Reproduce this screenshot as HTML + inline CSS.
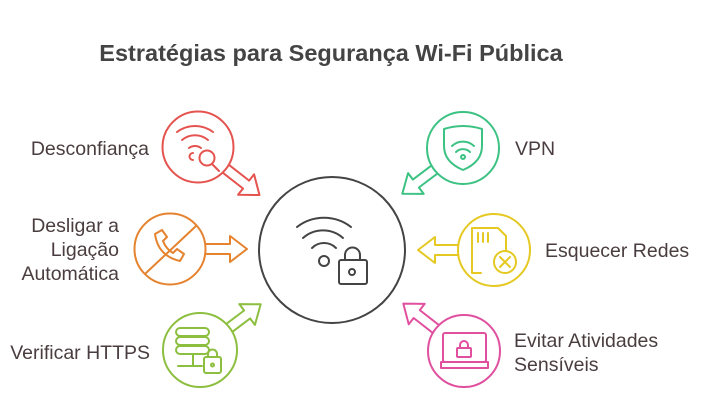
<!DOCTYPE html>
<html><head><meta charset="utf-8"><style>
body{margin:0;width:709px;height:413px;background:#fff;overflow:hidden}
svg{display:block}
text{font-family:"Liberation Sans",sans-serif}
.l{font-size:19.5px;fill:#4a3d3f}
</style></head><body>
<svg width="709" height="413" viewBox="0 0 709 413">
<text x="331" y="61" text-anchor="middle" font-size="23.5" font-weight="bold" fill="#444">Estratégias para Segurança Wi-Fi Pública</text>
<g fill="#fff" stroke-width="2" stroke-linejoin="round">
<g transform="translate(198,147) rotate(38)" stroke="#e5534f"><polygon points="30,-5 61,-5 61,-13 78,0 61,13 61,5 30,5"/></g>
<g transform="translate(170,249)" stroke="#e5832f"><polygon points="30,-5 60,-5 60,-13 77,0 60,13 60,5 30,5"/></g>
<g transform="translate(200,350) rotate(-37)" stroke="#8cbf3f"><polygon points="30,-5 59,-5 59,-13 76,0 59,13 59,5 30,5"/></g>
<g transform="translate(463,148) rotate(143)" stroke="#3cc283"><polygon points="30,-5 59,-5 59,-13 76,0 59,13 59,5 30,5"/></g>
<g transform="translate(494,250) rotate(180)" stroke="#e5c922"><polygon points="30,-5 59,-5 59,-13 76,0 59,13 59,5 30,5"/></g>
<g transform="translate(464,351) rotate(218)" stroke="#e0509f"><polygon points="30,-5 60,-5 60,-13 77,0 60,13 60,5 30,5"/></g>
<circle cx="198" cy="147" r="35.5" stroke="#e5534f"/>
<circle cx="170" cy="249" r="35.5" stroke="#e5832f"/>
<circle cx="200" cy="350" r="37" stroke="#8cbf3f"/>
<circle cx="463" cy="148" r="36" stroke="#3cc283"/>
<circle cx="494" cy="250" r="36" stroke="#e5c922"/>
<circle cx="464" cy="351" r="36" stroke="#e0509f"/>
<circle cx="332" cy="250" r="73" stroke="#444"/>
</g>
<g fill="none" stroke-width="2" stroke-linecap="round" stroke-linejoin="round">
<g stroke="#444">
<path d="M297 227 A44 44 0 0 1 351 227"/>
<path d="M303 238 A30 30 0 0 1 343 238"/>
<path d="M312 248 A17 17 0 0 1 336 248"/>
<circle cx="324" cy="261" r="5"/>
<rect x="339" y="260" width="28" height="24" rx="2"/>
<path d="M345 260 v-5 a7.5 7.5 0 0 1 15 0 v5"/>
<circle cx="352" cy="272" r="3"/>
</g>
<g stroke="#e5534f">
<path d="M177 132 A30 30 0 0 1 213 132"/>
<path d="M182 140 A20 20 0 0 1 208 140"/>
<path d="M189 148 A10 10 0 0 1 201 148"/>
<path d="M193 153 a3.5 3.5 0 0 0 0 7"/>
<circle cx="207" cy="158" r="7.5"/>
<path d="M212 164 l7 7"/>
</g>
<g stroke="#e5832f">
<path d="M155 234 l7 -4 l5 7 l-4 4 q3 8 10 12 l4 -4 l7 5 l-4 7 q-22 -5 -25 -27z"/>
<path d="M146 273 l50 -47"/>
</g>
<g stroke="#8cbf3f">
<rect x="176" y="328" width="33" height="8" rx="4"/>
<rect x="176" y="337" width="33" height="8" rx="4"/>
<rect x="176" y="346" width="33" height="8" rx="4"/>
<path d="M193 354 v11 M178 366 h24"/>
<rect x="204" y="357" width="17" height="16" rx="2"/>
<path d="M208 357 v-3 a4.5 4.5 0 0 1 9 0 v3"/>
<circle cx="212.5" cy="365" r="1.5"/>
</g>
<g stroke="#3cc283">
<path d="M444 129 q19 -6 38 0 v17 q0 16 -19 24 q-19 -8 -19 -24z"/>
<path d="M452 146 A16 16 0 0 1 474 146"/>
<path d="M456 152 A10 10 0 0 1 470 152"/>
<circle cx="463" cy="157" r="2"/>
</g>
<g stroke="#e5c922">
<path d="M481 273 h-9 v-45 h26 l8 8 v14"/>
<path d="M478 233 v9 M483 233 v9 M488 233 v9"/>
<circle cx="505" cy="262" r="11"/>
<path d="M500 257 l10 10 M510 257 l-10 10"/>
</g>
<g stroke="#e0509f">
<rect x="443" y="333" width="43" height="29" rx="2"/>
<path d="M441 362 h47 v6 h-47z"/>
<rect x="457" y="348" width="14" height="9" rx="1"/>
<path d="M460 348 v-3 a4 4 0 0 1 8 0 v3"/>
</g>
</g>
<text class="l" x="149" y="155" text-anchor="end">Desconfiança</text>
<text class="l" x="119" y="232" text-anchor="end">Desligar a</text>
<text class="l" x="119" y="256" text-anchor="end">Ligação</text>
<text class="l" x="119" y="280" text-anchor="end">Automática</text>
<text class="l" x="150" y="359" text-anchor="end">Verificar HTTPS</text>
<text class="l" x="515" y="155">VPN</text>
<text class="l" x="545" y="257">Esquecer Redes</text>
<text class="l" x="514" y="347">Evitar Atividades</text>
<text class="l" x="514" y="371">Sensíveis</text>
</svg>
</body></html>
